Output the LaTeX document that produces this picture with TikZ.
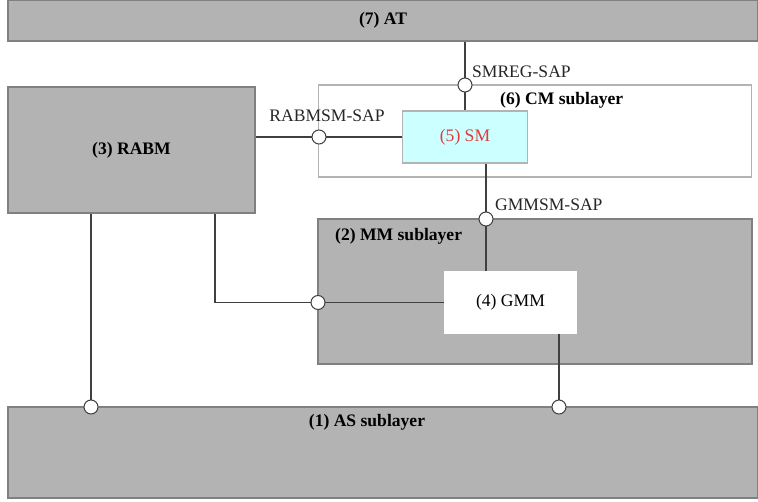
\documentclass[tikz,border=0pt]{standalone}
\usepackage{fontspec}
\setmainfont{Liberation Serif}
\usetikzlibrary{positioning}
\definecolor{layergray}{HTML}{B3B3B3}
\definecolor{edgegray}{HTML}{808080}
\definecolor{linegray}{HTML}{404040}
\definecolor{smcyan}{HTML}{CCFFFF}
\definecolor{smred}{HTML}{E03A3A}

\begin{document}
\begin{tikzpicture}[x=0.02cm, y=-0.02cm, font=\fontsize{10}{12}\selectfont,
  layer/.style={rectangle, draw=edgegray, fill=layergray, line width=0.7pt, inner sep=0pt},
  entity/.style={rectangle, draw=edgegray!60, fill=white, line width=0.6pt, inner sep=0pt},
  sap/.style={circle, draw=linegray, fill=white, line width=0.6pt, minimum size=0.28cm, inner sep=0pt},
  link/.style={draw=linegray, line width=0.6pt},
  saplabel/.style={inner sep=1pt, text=black!85}]
  \useasboundingbox (0,0) rectangle (758,501);
  % layers and entities
  \node[layer, minimum width=15cm, minimum height=0.82cm] (at) at (383,20.5) {\textbf{(7) AT}};
  \node[layer, minimum width=4.94cm, minimum height=2.52cm] (rabm) at (131.5,150) {\textbf{(3) RABM}};
  \node[entity, minimum width=8.68cm, minimum height=1.84cm] (cm) at (535,131) {};
  \node[entity, fill=smcyan, minimum width=2.5cm, minimum height=1.04cm, text=smred] (sm) at (465,137) {(5) SM};
  \node[layer, minimum width=8.68cm, minimum height=2.9cm] (mm) at (535,291.5) {};
  \node[entity, draw=white, minimum width=2.62cm, minimum height=1.22cm] (gmm) at (510.5,302.5) {(4) GMM};
  \node[layer, minimum width=15cm, minimum height=1.82cm] (as) at (383,452.5) {};
  \node[anchor=west] (cmlabel) at (494,100) {\textbf{(6) CM sublayer}};
  \node[anchor=west] (mmlabel) at (329,236) {\textbf{(2) MM sublayer}};
  \node (aslabel) at (367,422) {\textbf{(1) AS sublayer}};

  % access points
  \coordinate (smreg) at (465,85);
  \coordinate (rabmsm) at (319,137);
  \coordinate (gmmsm) at (486,219);
  \coordinate (rabmgmm) at (318,302.5);
  \coordinate (bend) at (215,302.5);
  \coordinate (rabmas) at (91,407);
  \coordinate (gmmas) at (559,407);

  % connectors
  \draw[link] (at.south -| smreg) -- (smreg) -- (sm.north -| smreg);
  \draw[link] (rabm.east |- rabmsm) -- (rabmsm) -- (sm.west |- rabmsm);
  \draw[link] (sm.south -| gmmsm) -- (gmmsm) -- (gmm.north -| gmmsm);
  \draw[link] (rabm.south -| bend) -- (bend) -- (rabmgmm) -- (gmm.west |- rabmgmm);
  \draw[link] (rabm.south -| rabmas) -- (rabmas);
  \draw[link] (gmm.south -| gmmas) -- (gmmas);

  \foreach \c in {smreg, rabmsm, gmmsm, rabmgmm, rabmas, gmmas}
    \node[sap] (\c-sap) at (\c) {};

  \node[saplabel, anchor=west] (smreglabel) at (470,72) {SMREG-SAP};
  \node[saplabel] (rabmsmlabel) at (327,116) {RABMSM-SAP};
  \node[saplabel, anchor=west] (gmmsmlabel) at (493,205) {GMMSM-SAP};
\end{tikzpicture}
\end{document}
